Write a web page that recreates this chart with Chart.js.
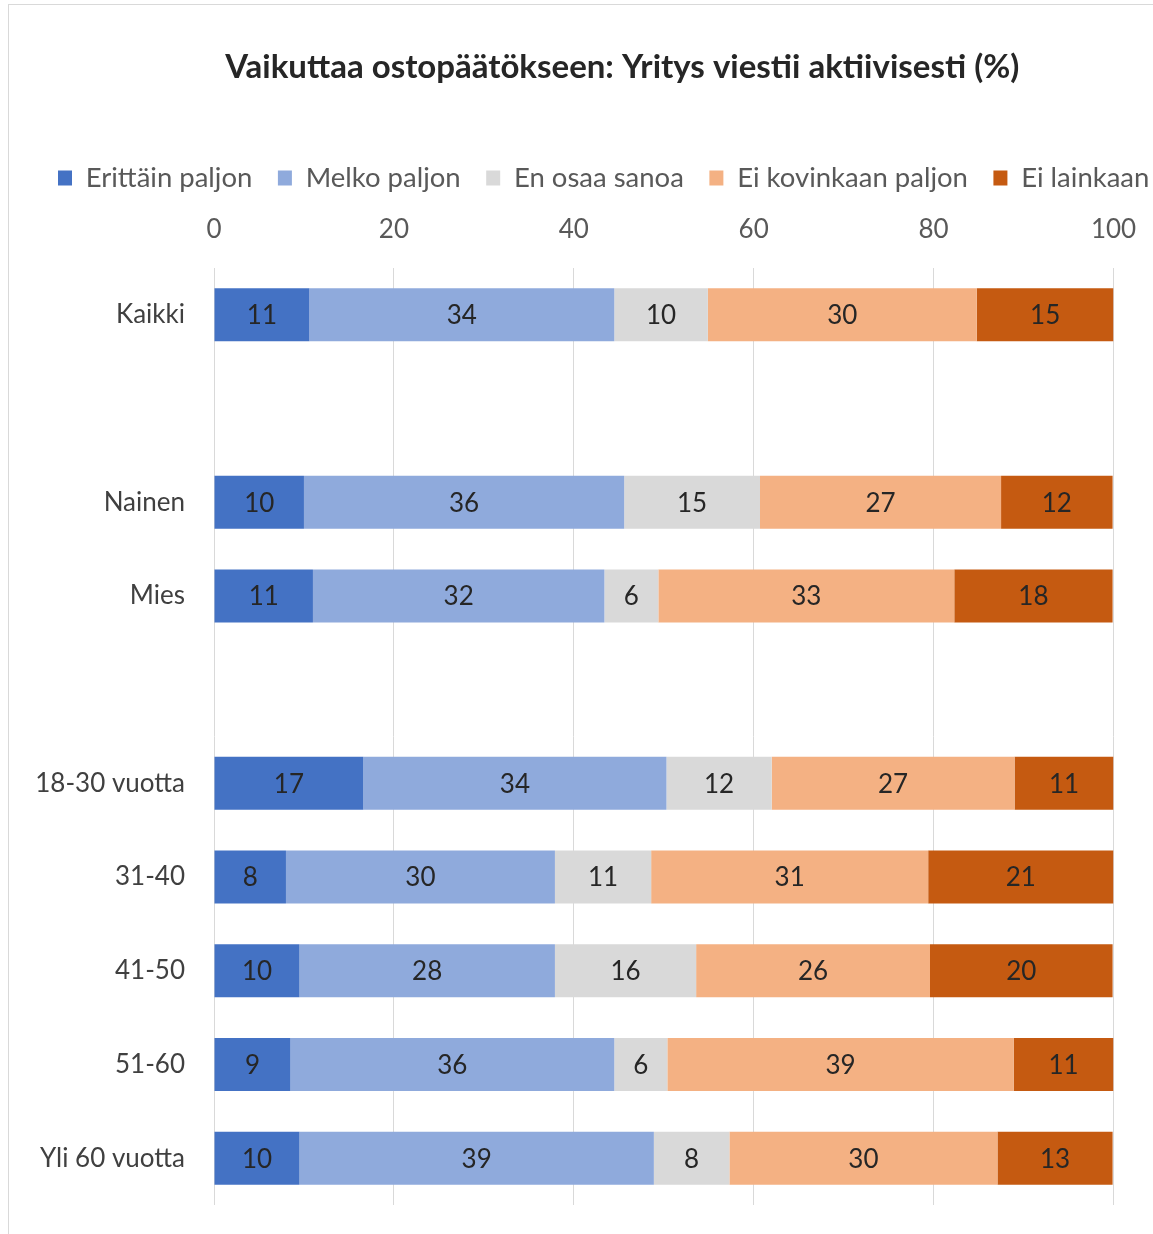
<!DOCTYPE html>
<html>
<head>
<meta charset="utf-8">
<script src="https://cdn.jsdelivr.net/npm/chart.js@4.4.1/dist/chart.umd.min.js"></script>
<style>
  html, body { margin: 0; padding: 0; background: #ffffff; overflow: hidden; width: 1153px; height: 1234px; }
  #frame { position: absolute; left: 8px; top: 4px; width: 1400px; height: 1400px; border: 1px solid #d9d9d9; box-sizing: border-box; }
  #wrap { position: absolute; left: 0; top: 0; width: 1212px; height: 1234px; }
</style>
</head>
<body>
<div id="frame"></div>
<div id="wrap"><canvas id="chart" width="1212" height="1234"></canvas></div>
<script>
const titleText = 'Vaikuttaa ostopäätökseen: Yritys viestii aktiivisesti (%)';
const categories = ['Kaikki', '', 'Nainen', 'Mies', '', '18-30 vuotta', '31-40', '41-50', '51-60', 'Yli 60 vuotta'];
const seriesNames = ['Erittäin paljon', 'Melko paljon', 'En osaa sanoa', 'Ei kovinkaan paljon', 'Ei lainkaan'];
const erittainPaljon = [10.6, null, 10.0, 11.0, null, 16.6, 8.0, 9.5, 8.5, 9.5];
const melkoPaljon    = [33.9, null, 35.6, 32.4, null, 33.7, 29.9, 28.4, 36.0, 39.4];
const enOsaaSanoa    = [10.4, null, 15.1, 6.0, null, 11.7, 10.7, 15.7, 5.9, 8.4];
const eiKovinkaan    = [29.9, null, 26.8, 32.9, null, 27.0, 30.8, 26.0, 38.5, 29.8];
const eiLainkaan     = [15.2, null, 12.4, 17.6, null, 11.0, 20.6, 20.3, 11.1, 12.8];
const xTicks = [0, 20, 40, 60, 80, 100];

const seriesValues = [erittainPaljon, melkoPaljon, enOsaaSanoa, eiKovinkaan, eiLainkaan];
const seriesColors = ['#4472C4', '#8FAADC', '#D9D9D9', '#F4B183', '#C55A11'];
const FONT = 'Lato, "Open Sans", sans-serif';

Chart.defaults.font.family = FONT;

const barLabels = {
  id: 'barLabels',
  afterDatasetsDraw(chart) {
    const ctx = chart.ctx;
    ctx.save();
    ctx.font = '26px ' + FONT;
    ctx.fillStyle = '#262626';
    ctx.textAlign = 'center';
    ctx.textBaseline = 'middle';
    chart.data.datasets.forEach((ds, di) => {
      const meta = chart.getDatasetMeta(di);
      meta.data.forEach((el, i) => {
        const v = ds.data[i];
        if (v === null || v === undefined) return;
        const p = el.getProps(['x', 'y', 'base'], true);
        ctx.fillText(String(Math.round(v)), (p.x + p.base) / 2, p.y + 1);
      });
    });
    ctx.restore();
  }
};

new Chart(document.getElementById('chart'), {
  type: 'bar',
  data: {
    labels: categories,
    datasets: seriesNames.map((name, k) => ({
      label: name,
      data: seriesValues[k],
      backgroundColor: seriesColors[k],
      borderWidth: 0,
      barPercentage: 0.566,
      categoryPercentage: 1.0,
      xAxisID: 'x',
      yAxisID: 'y'
    }))
  },
  options: {
    indexAxis: 'y',
    responsive: false,
    animation: false,
    layout: { padding: { left: 32.5, right: 0, top: 0, bottom: 29 } },
    plugins: {
      title: {
        display: true,
        text: titleText,
        color: '#262626',
        font: { size: 33, weight: 'bold', family: FONT },
        padding: { top: 48, bottom: 51.15 }
      },
      legend: {
        display: true,
        position: 'top',
        align: 'start',
        labels: {
          boxWidth: 14,
          boxHeight: 15,
          padding: 25.5,
          color: '#595959',
          font: { size: 27.5, family: FONT }
        }
      },
      tooltip: { enabled: false }
    },
    scales: {
      x: {
        position: 'top',
        stacked: true,
        min: 0,
        max: 100,
        grid: { color: '#d9d9d9', lineWidth: 1, drawTicks: false },
        border: { display: false },
        ticks: { stepSize: 20, padding: 23, color: '#595959', font: { size: 26, family: FONT } },
        afterBuildTicks: s => { s.ticks = xTicks.map(v => ({ value: v })); },
        afterFit: s => { s.height = 66.25; }
      },
      y: {
        stacked: true,
        grid: { display: false, drawTicks: true, tickLength: 16 },
        border: { display: false },
        ticks: { padding: 13, color: '#404040', font: { size: 26, family: FONT } },
        afterFit: s => { s.width = 181.5; }
      },
      yR: {
        type: 'category',
        labels: categories,
        position: 'right',
        display: true,
        grid: { display: false, drawTicks: false },
        border: { display: false },
        ticks: { display: false },
        afterFit: s => { s.width = 98.5; }
      }
    }
  },
  plugins: [barLabels]
});
</script>
</body>
</html>
